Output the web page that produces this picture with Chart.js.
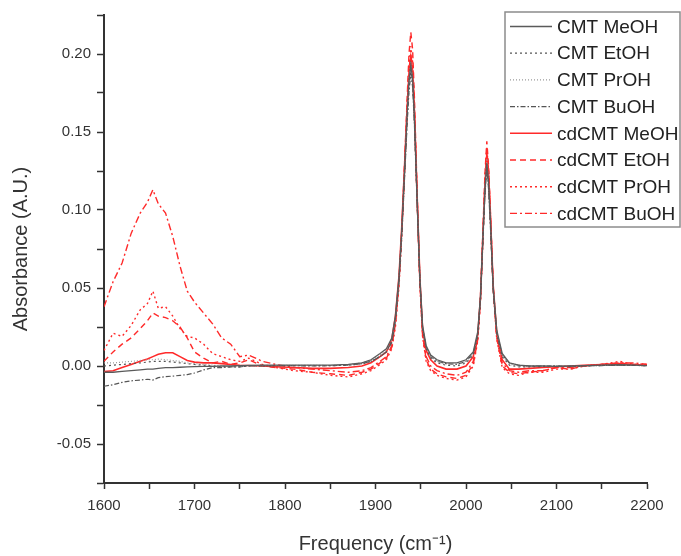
<!DOCTYPE html>
<html lang="en">
<head>
<meta charset="UTF-8">
<title>Absorbance spectra</title>
<script src="https://cdn.jsdelivr.net/npm/chart.js"></script>
<style>
    body { margin: 0; background: #ffffff; }
    canvas { display: block; }
</style>
</head>
<body>
<canvas id="spectrum" width="681" height="556"></canvas>
<script>
    // frequency grid (cm-1), denser around the two peaks
    const freq = [
        1600, 1610, 1620, 1630, 1640, 1648, 1654, 1660, 1668, 1676,
        1684, 1692, 1700, 1710, 1720, 1730, 1740, 1750, 1760, 1775,
        1790, 1810, 1830, 1850, 1870, 1885, 1895, 1905, 1912, 1918,
        1922, 1926, 1929, 1932, 1935, 1937, 1939, 1941, 1943, 1946,
        1949, 1952, 1956, 1961, 1968, 1978, 1990, 2000, 2008, 2013,
        2016, 2019, 2021, 2023, 2025, 2027, 2030, 2034, 2040, 2048,
        2058, 2070, 2085, 2100, 2115, 2130, 2150, 2170, 2185, 2200
    ];

    const cmtMeOH = [
        -0.004, -0.004, -0.0035, -0.003, -0.0025, -0.002, -0.002, -0.0015, -0.001, -0.001,
        -0.0008, -0.0005, -0.0004, -0.0003, -0.0002, 0, 0, 0.0003, 0.0004, 0.0005,
        0.0005, 0.0005, 0.0006, 0.0006, 0.001, 0.002, 0.004, 0.008, 0.011, 0.018,
        0.032, 0.057, 0.087, 0.124, 0.162, 0.183, 0.193, 0.184, 0.159, 0.107,
        0.057, 0.026, 0.013, 0.007, 0.004, 0.002, 0.002, 0.004, 0.009, 0.022,
        0.045, 0.087, 0.114, 0.130, 0.117, 0.093, 0.051, 0.023, 0.008, 0.002,
        0.0005, 0, 0, -0.0003, 0, 0.0002, 0.0005, 0.0008, 0.0005, 0.0003
    ];
    const cmtEtOH = [
        0, 0.0005, 0.001, 0.0015, 0.002, 0.0025, 0.003, 0.003, 0.003, 0.0025,
        0.002, 0.0015, 0.001, 0.0005, 0, -0.0005, -0.0005, -0.0005, 0, 0,
        0.0002, 0.0003, 0.0003, 0.0002, 0.0005, 0.0015, 0.003, 0.006, 0.009, 0.016,
        0.030, 0.055, 0.085, 0.121, 0.158, 0.179, 0.190, 0.182, 0.157, 0.105,
        0.055, 0.024, 0.011, 0.005, 0.002, 0.0005, 0, 0.002, 0.007, 0.020,
        0.043, 0.085, 0.112, 0.128, 0.115, 0.091, 0.049, 0.021, 0.006, 0.0005,
        -0.0005, -0.0005, -0.0003, 0, -0.0005, 0, 0.0003, 0.0006, 0.0004, 0.0002
    ];
    const cmtPrOH = [
        0.002, 0.002, 0.0025, 0.003, 0.0035, 0.004, 0.004, 0.0045, 0.004, 0.0035,
        0.003, 0.002, 0.0015, 0.001, 0.0005, 0, -0.0003, 0, 0.0002, 0.0003,
        0.0003, 0.0004, 0.0004, 0.0003, 0.0008, 0.002, 0.0035, 0.007, 0.010, 0.017,
        0.031, 0.057, 0.088, 0.125, 0.164, 0.185, 0.195, 0.186, 0.160, 0.108,
        0.057, 0.025, 0.012, 0.006, 0.003, 0.0015, 0.001, 0.003, 0.008, 0.021,
        0.045, 0.088, 0.116, 0.133, 0.119, 0.094, 0.051, 0.022, 0.007, 0.001,
        0, -0.0003, 0, 0.0002, 0, 0.0003, 0.0005, 0.0008, 0.0005, 0.0003
    ];
    const cmtBuOH = [
        -0.013, -0.012, -0.0105, -0.0095, -0.009, -0.0085, -0.009, -0.0075, -0.0068, -0.0065,
        -0.006, -0.0055, -0.0045, -0.0025, -0.001, -0.001, -0.0005, -0.0005, 0, 0,
        0.0002, 0.0002, 0, 0.0002, 0.0005, 0.0015, 0.003, 0.006, 0.009, 0.015,
        0.029, 0.054, 0.083, 0.119, 0.156, 0.176, 0.187, 0.179, 0.155, 0.104,
        0.055, 0.024, 0.012, 0.006, 0.003, 0.0015, 0.001, 0.003, 0.008, 0.020,
        0.042, 0.084, 0.110, 0.127, 0.113, 0.089, 0.048, 0.021, 0.007, 0.002,
        0.0005, 0, 0, 0, -0.0003, 0, 0.0003, 0.0005, 0.0004, 0.0002
    ];
    const cdMeOH = [
        -0.0035, -0.003, -0.001, 0.001, 0.003, 0.0045, 0.006, 0.0075, 0.0085, 0.0085,
        0.006, 0.0035, 0.0025, 0.002, 0.002, 0.0015, 0.001, 0.0005, 0.0003, 0,
        -0.0005, -0.001, -0.0015, -0.0015, -0.001, 0, 0.002, 0.006, 0.009, 0.017,
        0.032, 0.058, 0.089, 0.127, 0.166, 0.188, 0.198, 0.189, 0.163, 0.109,
        0.057, 0.024, 0.010, 0.004, 0, -0.002, -0.002, 0, 0.006, 0.020,
        0.044, 0.088, 0.117, 0.136, 0.122, 0.096, 0.052, 0.021, 0.004, -0.002,
        -0.002, -0.0015, -0.001, -0.0005, 0, 0.0005, 0.001, 0.0015, 0.001, 0.0005
    ];
    const cdEtOH = [
        0.003, 0.009, 0.014, 0.018, 0.024, 0.029, 0.034, 0.032, 0.031, 0.029,
        0.025, 0.018, 0.009, 0.005, 0.002, 0.003, 0.001, 0.002, 0.004, 0,
        -0.001, -0.002, -0.004, -0.005, -0.006, -0.004, -0.002, 0.002, 0.005, 0.012,
        0.027, 0.054, 0.087, 0.128, 0.172, 0.200, 0.214, 0.203, 0.172, 0.112,
        0.055, 0.020, 0.004, -0.002, -0.005, -0.007, -0.008, -0.006, 0.001, 0.017,
        0.044, 0.092, 0.124, 0.144, 0.128, 0.099, 0.051, 0.018, 0, -0.004,
        -0.005, -0.004, -0.003, -0.001, -0.002, 0, 0.001, 0.002, 0.001, 0.001
    ];
    const cdPrOH = [
        0.010, 0.021, 0.019, 0.026, 0.036, 0.040, 0.048, 0.037, 0.038, 0.032,
        0.024, 0.019, 0.018, 0.014, 0.008, 0.006, 0.004, 0.003, 0.005, 0.001,
        -0.001, -0.003, -0.004, -0.006, -0.007, -0.005, -0.003, 0.001, 0.004, 0.011,
        0.025, 0.051, 0.083, 0.122, 0.164, 0.191, 0.205, 0.195, 0.166, 0.108,
        0.053, 0.019, 0.003, -0.003, -0.006, -0.008, -0.009, -0.007, 0, 0.016,
        0.042, 0.089, 0.120, 0.140, 0.125, 0.097, 0.050, 0.017, -0.001, -0.005,
        -0.006, -0.004, -0.004, -0.002, -0.002, 0, 0.001, 0.003, 0.001, 0.001
    ];
    const cdBuOH = [
        0.038, 0.054, 0.066, 0.085, 0.098, 0.105, 0.113, 0.104, 0.098, 0.083,
        0.064, 0.048, 0.041, 0.034, 0.027, 0.018, 0.014, 0.006, 0.007, 0.003,
        0.001, -0.001, -0.002, -0.003, -0.004, -0.003, -0.001, 0.003, 0.006, 0.013,
        0.028, 0.055, 0.086, 0.125, 0.166, 0.190, 0.200, 0.191, 0.163, 0.107,
        0.054, 0.021, 0.006, 0, -0.003, -0.005, -0.006, -0.004, 0.003, 0.018,
        0.043, 0.088, 0.118, 0.138, 0.123, 0.096, 0.051, 0.019, 0.002, -0.003,
        -0.004, -0.003, -0.003, -0.001, -0.001, 0, 0.001, 0.002, 0.002, 0.001
    ];

    const seriesNames = [
        'CMT MeOH', 'CMT EtOH', 'CMT PrOH', 'CMT BuOH',
        'cdCMT MeOH', 'cdCMT EtOH', 'cdCMT PrOH', 'cdCMT BuOH'
    ];
    const seriesValues = [cmtMeOH, cmtEtOH, cmtPrOH, cmtBuOH, cdMeOH, cdEtOH, cdPrOH, cdBuOH];

    const lineStyles = [
        { color: '#5a5a5a', dash: [], width: 1.3 },
        { color: '#555555', dash: [2, 3], width: 1.2 },
        { color: '#9a9a9a', dash: [1, 2], width: 1.2 },
        { color: '#555555', dash: [5, 2, 1.5, 2], width: 1.2 },
        { color: '#ff2a2a', dash: [], width: 1.6 },
        { color: '#ff2a2a', dash: [6, 4], width: 1.4 },
        { color: '#ff2a2a', dash: [2, 3], width: 1.4 },
        { color: '#ff2a2a', dash: [7, 3, 2, 3], width: 1.4 }
    ];

    const FONT = '"Liberation Sans", Arial, sans-serif';

    const datasets = seriesNames.map((name, i) => ({
        label: name,
        data: freq.map((f, k) => ({ x: f, y: seriesValues[i][k] })),
        borderColor: lineStyles[i].color,
        borderDash: lineStyles[i].dash,
        borderWidth: lineStyles[i].width,
        pointRadius: 0,
        tension: 0,
        fill: false,
        order: i < 4 ? 1 : 2
    }));

    // legend box drawn inside the plot, upper right
    const boxLegend = {
        id: 'boxLegend',
        afterDraw(chart) {
            const ctx = chart.ctx;
            const left = 505, top = 12, right = 680, rowH = 26.7;
            ctx.save();
            ctx.strokeStyle = '#8c8c8c';
            ctx.lineWidth = 1.5;
            ctx.strokeRect(left, top, right - left, 215);
            ctx.font = '19px ' + FONT;
            ctx.textBaseline = 'middle';
            ctx.fillStyle = '#222';
            chart.data.datasets.forEach((ds, i) => {
                const y = top + 14.5 + i * rowH;
                ctx.beginPath();
                ctx.strokeStyle = ds.borderColor;
                ctx.lineWidth = ds.borderWidth;
                ctx.setLineDash(ds.borderDash);
                ctx.moveTo(510, y);
                ctx.lineTo(552, y);
                ctx.stroke();
                ctx.setLineDash([]);
                ctx.fillText(ds.label, 557, y + 1);
            });
            ctx.restore();
        }
    };

    const isMultiple = (v, step) => Math.abs(Math.round(v / step) * step - v) < 1e-9;

    new Chart(document.getElementById('spectrum'), {
        type: 'line',
        data: { datasets: datasets },
        options: {
            responsive: false,
            animation: false,
            layout: { padding: { top: 13, right: 34, left: 0, bottom: 0 } },
            plugins: {
                legend: { display: false },
                tooltip: { enabled: false }
            },
            scales: {
                x: {
                    type: 'linear',
                    min: 1600,
                    max: 2200,
                    afterFit: (scale) => { scale.height = 73; },
                    ticks: {
                        stepSize: 50,
                        color: '#333',
                        font: { family: FONT, size: 15 },
                        padding: 8,
                        maxRotation: 0,
                        autoSkip: false,
                        callback: (v) => isMultiple(v, 100) ? String(v) : ''
                    },
                    grid: {
                        drawOnChartArea: false,
                        tickLength: 6,
                        tickColor: '#333',
                        tickWidth: 1.5
                    },
                    border: { display: true, color: '#333', width: 2 },
                    title: {
                        display: true,
                        text: 'Frequency (cm⁻¹)',
                        color: '#333',
                        font: { family: FONT, size: 20 },
                        padding: { top: 2, bottom: 0 }
                    }
                },
                y: {
                    min: -0.075,
                    max: 0.225,
                    afterFit: (scale) => { scale.width = 104; },
                    ticks: {
                        stepSize: 0.025,
                        color: '#333',
                        font: { family: FONT, size: 15 },
                        padding: 6,
                        autoSkip: false,
                        callback: (v) => isMultiple(v, 0.05) ? v.toFixed(2) : ''
                    },
                    grid: {
                        drawOnChartArea: false,
                        tickLength: 7,
                        tickColor: '#333',
                        tickWidth: 1.5
                    },
                    border: { display: true, color: '#333', width: 2 },
                    title: {
                        display: true,
                        text: 'Absorbance (A.U.)',
                        color: '#333',
                        font: { family: FONT, size: 20 },
                        padding: { top: 9, bottom: 0 }
                    }
                }
            }
        },
        plugins: [boxLegend]
    });
</script>
</body>
</html>
